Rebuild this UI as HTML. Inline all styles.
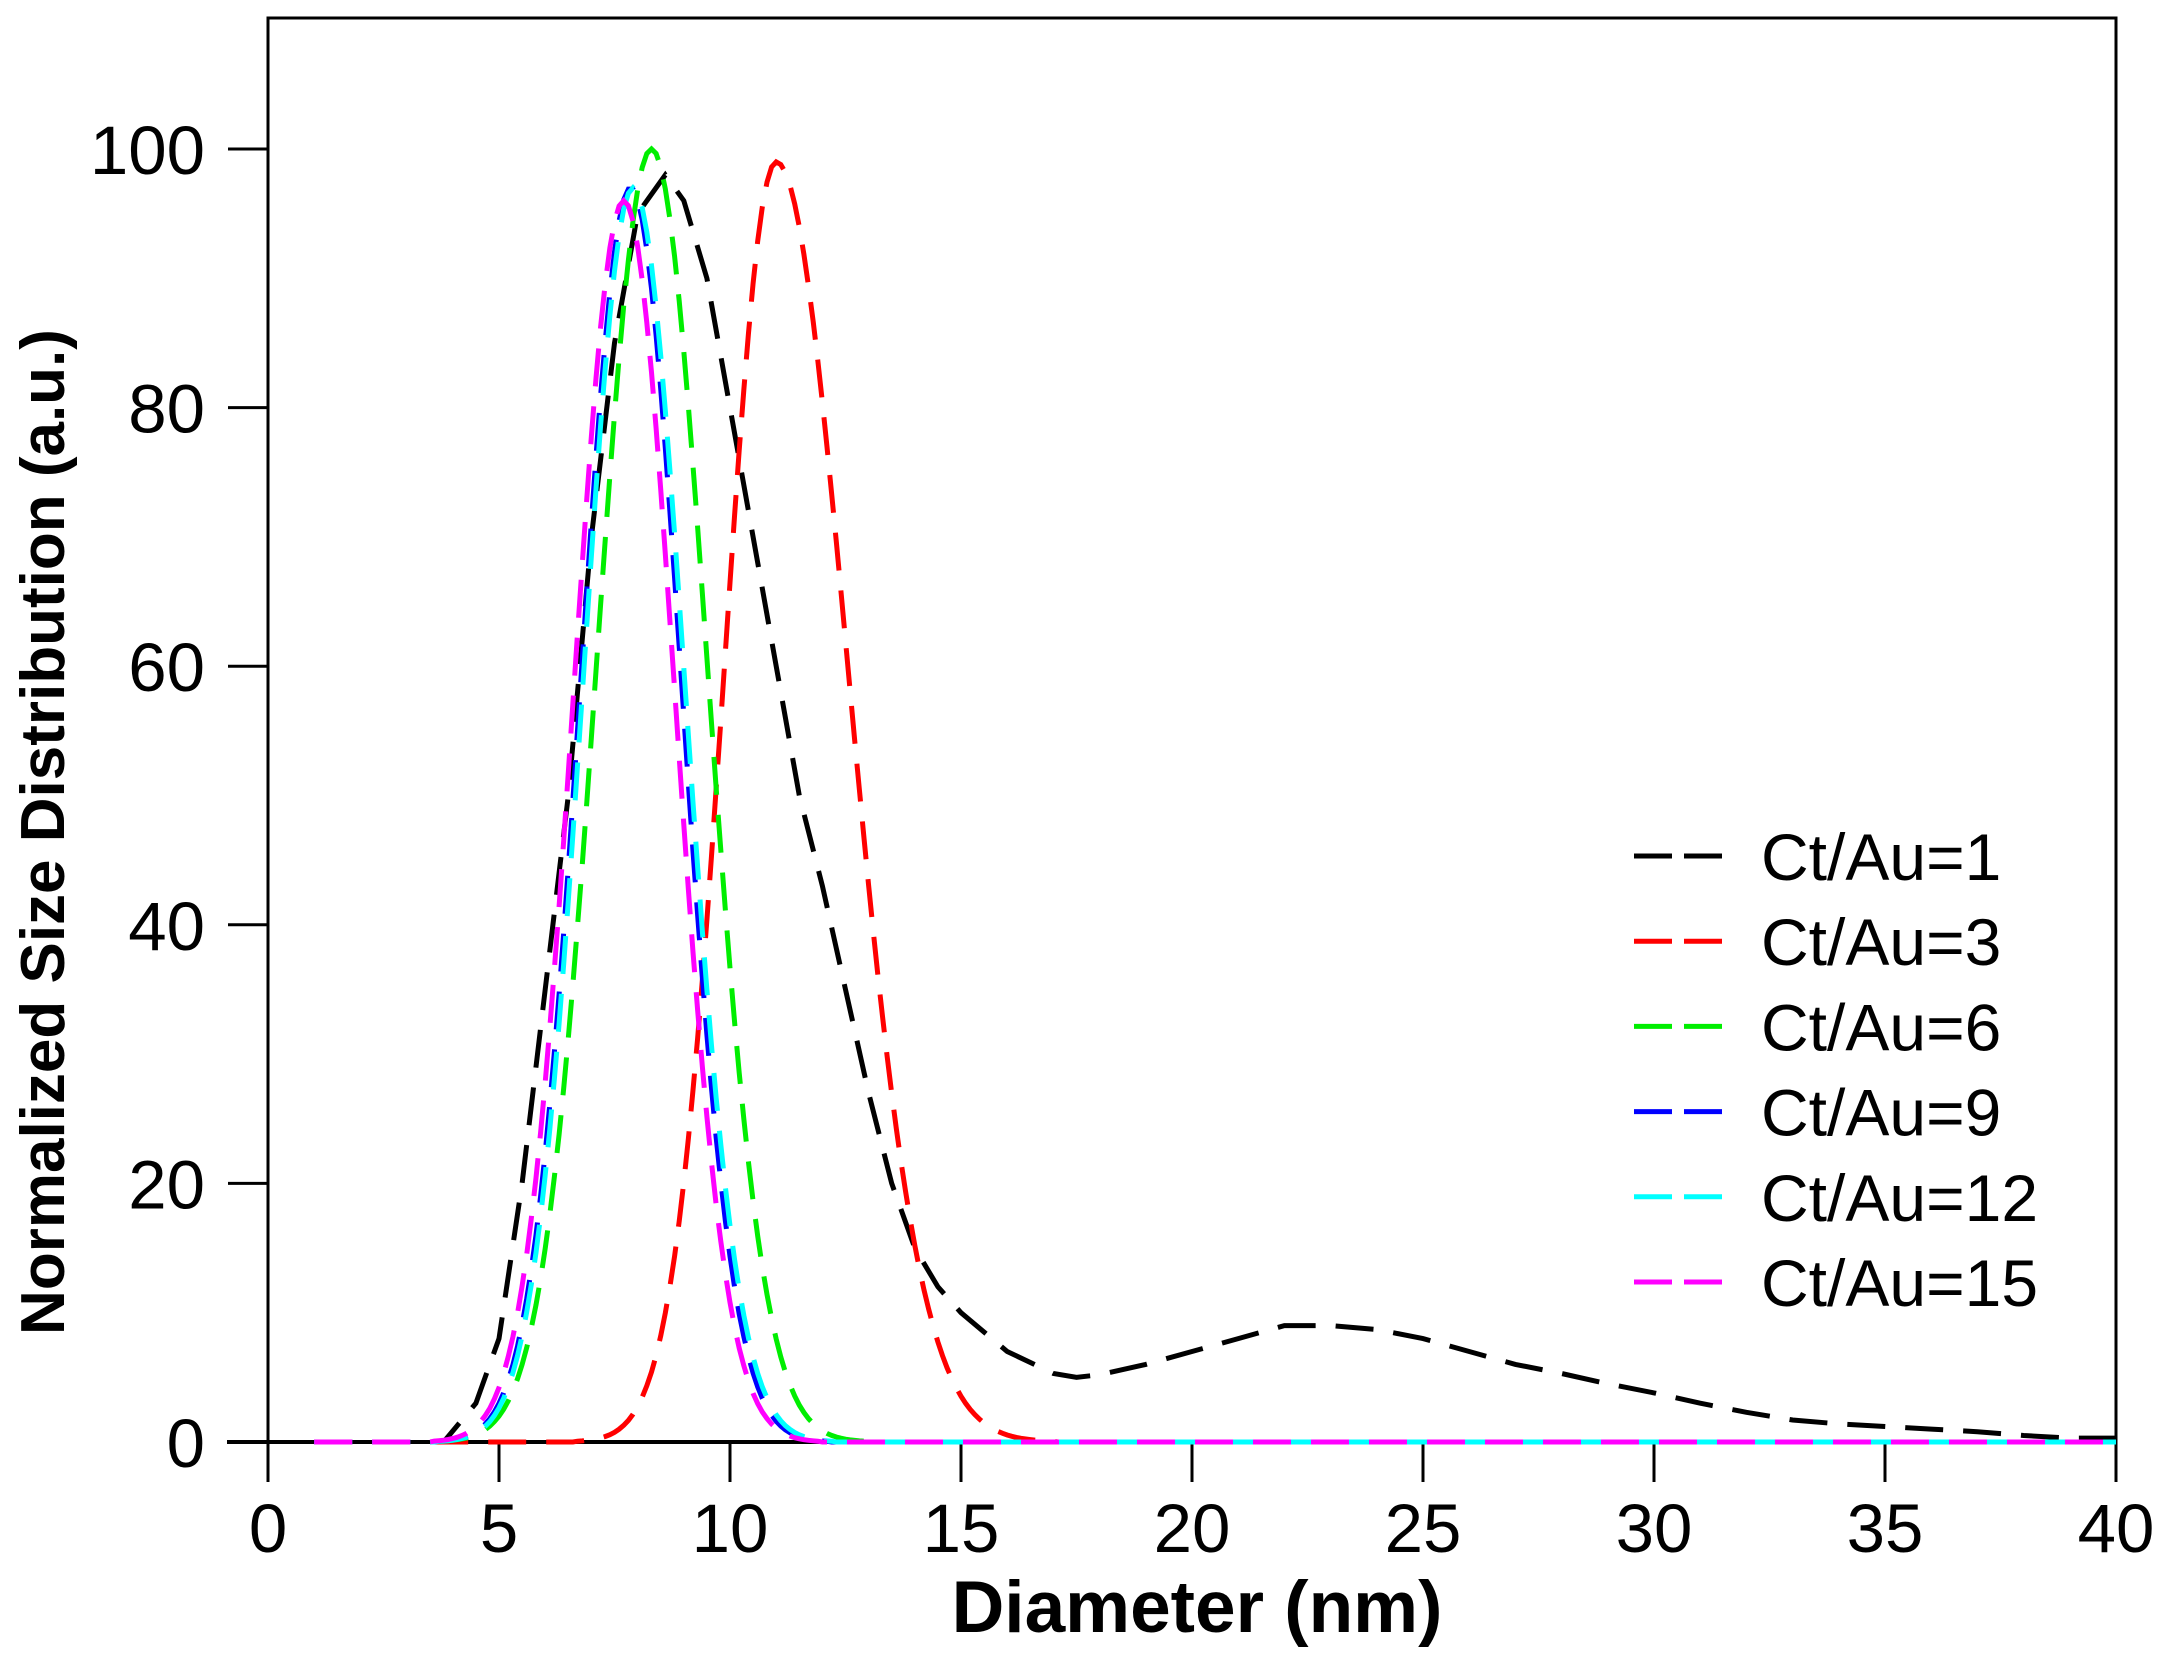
<!DOCTYPE html>
<html><head><meta charset="utf-8"><style>
html,body{margin:0;padding:0;background:#fff;}
svg{display:block;}
text{font-family:"Liberation Sans",Arial,sans-serif;fill:#000;}
</style></head><body>
<svg id="s" width="2157" height="1653" viewBox="0 0 2157 1653" xmlns="http://www.w3.org/2000/svg">
<rect x="268" y="18" width="1848" height="1424" fill="none" stroke="#000" stroke-width="3"/>
<line x1="227" y1="1442" x2="2116" y2="1442" stroke="#000" stroke-width="4"/>
<g id="ticks" stroke="#000" stroke-width="3"></g>
<g id="labels" font-size="69"></g>
<g id="curves" fill="none" stroke-width="5" stroke-dasharray="38 20"></g>
<text x="1197" y="1632" font-size="73" font-weight="bold" text-anchor="middle">Diameter (nm)</text>
<text transform="translate(64,832) rotate(-90)" font-size="62" font-weight="bold" text-anchor="middle">Normalized Size Distribution (a.u.)</text>
<g id="legend" font-size="66"></g>
</svg>
<script>
var NS="http://www.w3.org/2000/svg";
function X(x){return 268+x*46.2;}
function Y(y){return 1442-y*12.93;}
function el(t,a,p,txt){var e=document.createElementNS(NS,t);for(var k in a)e.setAttribute(k,a[k]);if(txt!=null)e.textContent=txt;document.getElementById(p).appendChild(e);}
for(var i=0;i<=40;i+=5){el('line',{x1:X(i),y1:1442,x2:X(i),y2:1482},'ticks');el('text',{x:X(i),y:1552,'text-anchor':'middle'},'labels',i);}
for(var j=0;j<=100;j+=20){el('line',{x1:228,y1:Y(j),x2:268,y2:Y(j)},'ticks');el('text',{x:205,y:Y(j)+25,'text-anchor':'end'},'labels',j);}
function g(mu,A,sl,sr){return function(x){var s=x<mu?sl:sr;var v=A*Math.exp(-(x-mu)*(x-mu)/(2*s*s));return v<0.05?0:v;};}
function pathF(f,a,b){var d='';for(var x=a;x<=b+1e-9;x+=0.1){d+=(d?'L':'M')+X(x).toFixed(1)+','+Y(f(x)).toFixed(1);}return d;}
var blk=[[1,0],[3.8,0],[4.5,3],[5,8],[5.5,20],[6,35],[6.5,50],[7,70],[7.5,85],[8,95],[8.6,98],[9,96],[9.5,90],[10,80],[10.5,70],[11,60],[11.5,50],[12,43],[12.5,35],[13,27],[13.5,20],[14,15],[14.5,12],[15,10],[16,7],[17,5.3],[17.5,5],[18,5.2],[19,6],[20,7],[21,8],[22,9],[23,9],[24,8.7],[25,8],[26,7],[27,6],[28,5.3],[29,4.5],[30,3.8],[31,3],[32,2.3],[33,1.7],[34,1.4],[35,1.2],[36,1],[37,0.8],[38,0.5],[39,0.3],[40,0.3]];
var bd='';blk.forEach(function(p,i){bd+=(i?'L':'M')+X(p[0]).toFixed(1)+','+Y(p[1]).toFixed(1);});
el('path',{d:bd,stroke:'#000'},'curves');
el('path',{d:pathF(g(11.0,99,1.12,1.55),1,40),stroke:'#ff0000'},'curves');
el('path',{d:pathF(g(8.3,100,1.18,1.2),1,40),stroke:'#00ee00'},'curves');
el('path',{d:pathF(g(7.85,97,1.08,1.1),1,40),stroke:'#0000ff'},'curves');
el('path',{d:pathF(g(7.9,97,1.08,1.12),1,40),stroke:'#00ffff'},'curves');
el('path',{d:pathF(g(7.7,96,1.08,1.1),1,40),stroke:'#ff00ff'},'curves');
var L=[['Ct/Au=1','#000'],['Ct/Au=3','#ff0000'],['Ct/Au=6','#00ee00'],['Ct/Au=9','#0000ff'],['Ct/Au=12','#00ffff'],['Ct/Au=15','#ff00ff']];
L.forEach(function(l,i){var y=856+i*85.2;el('line',{x1:1634,y1:y,x2:1722,y2:y,stroke:l[1],'stroke-width':5,'stroke-dasharray':'38 12'},'legend');el('text',{x:1761,y:y+24},'legend',l[0]);});
</script>
</body></html>
